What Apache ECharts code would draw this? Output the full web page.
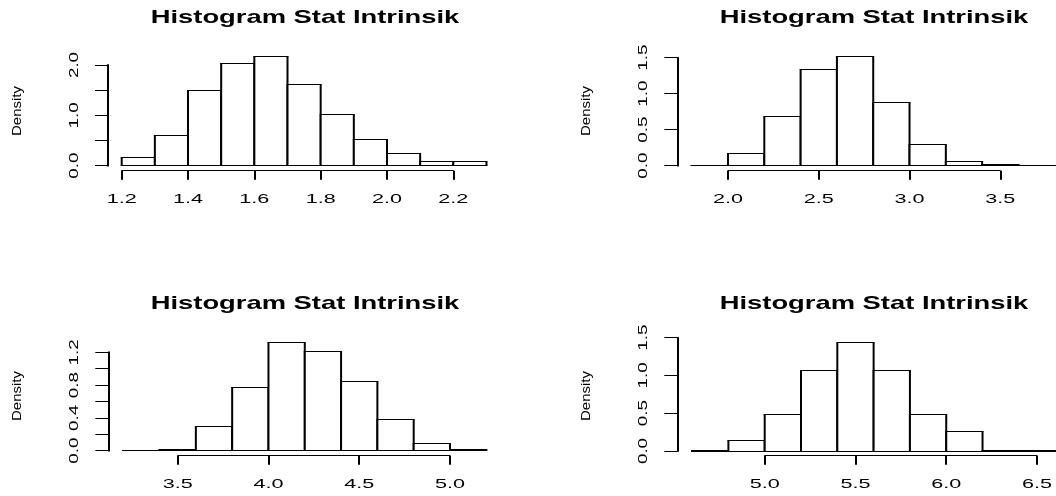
<!DOCTYPE html>
<html>
<head>
<meta charset="utf-8">
<script src="https://cdn.jsdelivr.net/npm/echarts@6/dist/echarts.min.js"></script>
<style>
html,body{margin:0;padding:0;background:#fff;}
#chart{width:1056px;height:496px;}
</style>
</head>
<body>
<div id="chart"></div>
<script>
// ---- data ----
const titleText = "Histogram Stat Intrinsik";
const yAxisName = "Density";

const breaks1 = [1.2, 1.3, 1.4, 1.5, 1.6, 1.7, 1.8, 1.9, 2.0, 2.1, 2.2, 2.3];
const density1 = [0.16, 0.59, 1.50, 2.03, 2.16, 1.62, 1.01, 0.52, 0.25, 0.08, 0.08];
const xTickLabels1 = ["1.2", "1.4", "1.6", "1.8", "2.0", "2.2"];
const yTickLabels1 = ["0.0", "1.0", "2.0"];

const breaks2 = [1.8, 2.0, 2.2, 2.4, 2.6, 2.8, 3.0, 3.2, 3.4, 3.6, 3.8];
const density2 = [0.003, 0.17, 0.68, 1.34, 1.51, 0.88, 0.30, 0.06, 0.02, 0.005];
const xTickLabels2 = ["2.0", "2.5", "3.0", "3.5"];
const yTickLabels2 = ["0.0", "0.5", "1.0", "1.5"];

const breaks3 = [3.2, 3.4, 3.6, 3.8, 4.0, 4.2, 4.4, 4.6, 4.8, 5.0, 5.2];
const density3 = [0.002, 0.01, 0.30, 0.77, 1.32, 1.21, 0.85, 0.38, 0.09, 0.01];
const xTickLabels3 = ["3.5", "4.0", "4.5", "5.0"];
const yTickLabels3 = ["0.0", "0.4", "0.8", "1.2"];

const breaks4 = [4.6, 4.8, 5.0, 5.2, 5.4, 5.6, 5.8, 6.0, 6.2, 6.4, 6.6];
const density4 = [0.008, 0.14, 0.485, 1.06, 1.44, 1.06, 0.485, 0.256, 0.008, 0.008];
const xTickLabels4 = ["5.0", "5.5", "6.0", "6.5"];
const yTickLabels4 = ["0.0", "0.5", "1.0", "1.5"];

// ---- layout (pixels) ----
const panels = [
  {breaks: breaks1, density: density1, xl: xTickLabels1, yl: yTickLabels1, xInt: 0.2, yMax: 2.0, yInt: 0.5,
   left: 121.7, top: 65, width: 331.6, height: 100.7, yOff: 13.7, xOff: 5, tx: 305, ty: 18, dx: 18, dy: 111},
  {breaks: breaks2, density: density2, xl: xTickLabels2, yl: yTickLabels2, xInt: 0.5, yMax: 1.5, yInt: 0.5,
   left: 728, top: 57.7, width: 272.3, height: 108, yOff: 50.7, xOff: 5, tx: 874, ty: 18, dx: 587, dy: 111},
  {breaks: breaks3, density: density3, xl: xTickLabels3, yl: yTickLabels3, xInt: 0.5, yMax: 1.2, yInt: 0.2,
   left: 177.7, top: 352.3, width: 272.3, height: 98.4, yOff: 69.4, xOff: 5, tx: 305, ty: 304, dx: 18, dy: 396},
  {breaks: breaks4, density: density4, xl: xTickLabels4, yl: yTickLabels4, xInt: 0.5, yMax: 1.5, yInt: 0.5,
   left: 764.7, top: 337.7, width: 272.3, height: 113.3, yOff: 87.4, xOff: 4.7, tx: 874, ty: 304, dx: 587, dy: 396}
];

const FONT = '"Liberation Sans", Arial, Helvetica, sans-serif';
const crisp = v => Math.round(v - 0.5) + 0.5;

const grids = [], xAxes = [], yAxes = [], series = [], graphics = [];

panels.forEach((p, i) => {
  const xMin = Number(p.xl[0]), xMax = Number(p.xl[p.xl.length - 1]);
  grids.push({left: p.left, top: p.top, width: p.width, height: p.height, containLabel: false});
  xAxes.push({
    type: 'value', gridIndex: i, min: xMin, max: xMax, interval: p.xInt, offset: p.xOff,
    axisLine: {show: true, onZero: false, lineStyle: {color: '#000', width: 1}},
    axisTick: {show: true, length: 9, lineStyle: {color: '#000', width: 2}},
    axisLabel: {show: false}, splitLine: {show: false}
  });
  yAxes.push({
    type: 'value', gridIndex: i, min: 0, max: p.yMax, interval: p.yInt, offset: p.yOff,
    axisLine: {show: true, onZero: false, lineStyle: {color: '#000', width: 2}},
    axisTick: {show: true, length: 13, lineStyle: {color: '#000', width: 1}},
    axisLabel: {show: false}, splitLine: {show: false}
  });

  // histogram bars
  series.push({
    type: 'custom', xAxisIndex: i, yAxisIndex: i, clip: false, silent: true,
    encode: {x: [0, 1], y: 2},
    data: p.density.map((d, k) => [p.breaks[k], p.breaks[k + 1], d]),
    renderItem: (params, api) => {
      const a = api.coord([api.value(0), api.value(2)]);
      const b = api.coord([api.value(1), 0]);
      const yt = crisp(a[1]), yb = crisp(b[1]);
      return {
        type: 'group',
        children: [
          {type: 'rect', shape: {x: a[0], y: yt, width: b[0] - a[0], height: yb - yt}, style: {fill: '#fff'}},
          {type: 'line', shape: {x1: a[0], y1: yt, x2: a[0], y2: yb}, style: {stroke: '#000', lineWidth: 2}},
          {type: 'line', shape: {x1: b[0], y1: yt, x2: b[0], y2: yb}, style: {stroke: '#000', lineWidth: 2}},
          {type: 'line', shape: {x1: a[0] - 1, y1: yt, x2: b[0] + 1, y2: yt}, style: {stroke: '#000', lineWidth: 1}},
          {type: 'line', shape: {x1: a[0] - 1, y1: yb, x2: b[0] + 1, y2: yb}, style: {stroke: '#000', lineWidth: 1}}
        ]
      };
    }
  });

  // x tick labels
  series.push({
    type: 'custom', xAxisIndex: i, yAxisIndex: i, clip: false, silent: true,
    encode: {x: 0},
    data: p.xl.map(s => [Number(s)]),
    renderItem: (params, api) => {
      const c = api.coord([api.value(0), 0]);
      return {
        type: 'text', x: c[0], y: c[1] + p.xOff + 29, scaleX: 1.6,
        style: {text: p.xl[params.dataIndex], fontSize: 13.5, fontFamily: FONT, fill: '#000',
                align: 'center', verticalAlign: 'middle'}
      };
    }
  });

  // y tick labels (rotated)
  series.push({
    type: 'custom', xAxisIndex: i, yAxisIndex: i, clip: false, silent: true,
    encode: {y: 0},
    data: p.yl.map(s => [Number(s)]),
    renderItem: (params, api) => {
      const c = api.coord([xMin, api.value(0)]);
      return {
        type: 'text', x: c[0] - p.yOff - 34, y: c[1], rotation: Math.PI / 2, scaleX: 1.45,
        style: {text: p.yl[params.dataIndex], fontSize: 13, fontFamily: FONT, fill: '#000',
                align: 'center', verticalAlign: 'middle'}
      };
    }
  });

  graphics.push({
    type: 'text', x: p.tx, y: p.ty, scaleX: 1.44, silent: true,
    style: {text: titleText, fontSize: 19, fontWeight: 'bold', fontFamily: FONT, fill: '#000',
            align: 'center', verticalAlign: 'middle'}
  });
  graphics.push({
    type: 'text', x: p.dx, y: p.dy, rotation: Math.PI / 2, scaleX: 1.2, silent: true,
    style: {text: yAxisName, fontSize: 12.5, fontFamily: FONT, fill: '#000',
            align: 'center', verticalAlign: 'middle'}
  });
});

const chart = echarts.init(document.getElementById('chart'), null, {renderer: 'canvas'});
chart.setOption({
  animation: false,
  backgroundColor: '#fff',
  grid: grids,
  xAxis: xAxes,
  yAxis: yAxes,
  series: series,
  graphic: graphics
});
</script>
</body>
</html>
